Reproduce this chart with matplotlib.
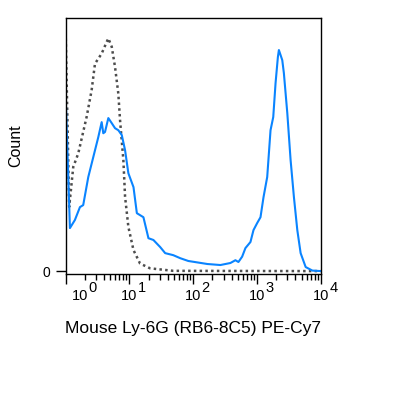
"""Ly-6G PE-Cy7 staining histogram (stained vs isotype control)."""

import matplotlib

matplotlib.use("Agg")
import matplotlib.pyplot as plt  # noqa: E402
import numpy as np  # noqa: E402
from matplotlib.ticker import LogLocator, NullFormatter  # noqa: E402

plt.rcParams["font.family"] = ["Liberation Sans", "DejaVu Sans"]

# stained sample (blue), fluorescence intensity vs % of mode
stained_x = [1.0, 1.0, 1.17, 1.40, 1.68, 1.89, 2.27, 2.72, 3.26, 3.68, 3.90, 4.15, 4.68,
             5.29, 5.96, 6.71, 7.60, 8.56, 9.64, 11.6, 13.1, 16.6, 19.9, 23.8, 30.4,
             36.4, 48.7, 62.7, 83.8, 167, 267, 383, 459, 512, 585, 659, 790, 881,
             1007, 1135, 1265, 1446, 1630, 1798, 1954, 2125, 2204, 2343, 2490, 2638,
             2985, 3363, 3793, 4285, 4831, 5792, 7385, 10000]
stained_y = [0, 70.4, 17.0, 20.2, 25.3, 26.1, 37.2, 45.1, 53.0, 58.9, 54.5, 55.0, 60.5,
             58.5, 56.5, 55.7, 53.8, 47.8, 38.7, 33.2, 22.9, 21.3, 13.0, 12.3, 9.5,
             7.1, 6.3, 5.1, 4.0, 2.8, 2.4, 3.2, 4.3, 3.6, 5.7, 9.1, 11.5, 16.2,
             19.0, 21.3, 29.2, 37.2, 55.7, 60.9, 74.3, 84.6, 87.4, 85.4, 83.4, 78.3,
             62.5, 43.9, 29.2, 16.2, 7.1, 1.6, 0.2, 0.0]

# isotype control (grey dotted)
isotype_x = [1.0, 1.0, 1.14, 1.32, 1.58, 2.14, 2.56, 2.89, 3.68, 4.41, 4.68, 5.29, 5.96,
             6.71, 7.14, 8.05, 8.56, 9.64, 11.6, 14.7, 21.1, 48.7, 10000]
isotype_y = [0, 96.0, 25.4, 41.2, 46.5, 61.0, 71.5, 82.0, 86.0, 90.6, 92.0, 88.7, 80.7,
             70.2, 59.7, 43.9, 29.4, 17.5, 8.3, 3.0, 1.1, 0.1, 0.0]

x_ticks = [1, 10, 100, 1000, 10000]
x_exponents = ["0", "1", "2", "3", "4"]

PX = 0.72  # points per pixel at dpi 100

fig = plt.figure(figsize=(4.15, 3.95), dpi=100)
ax = fig.add_axes([0.158, 0.306, 0.615, 0.648])

ax.plot(isotype_x, isotype_y, color="#4d4d4d", linestyle=(0, (1, 1.3)), linewidth=1.8)
ax.plot(stained_x, stained_y, color="#0a84ff", linewidth=1.5)

ax.set_xscale("log")
ax.set_xlim(1, 10000)
ax.set_ylim(-1.2, 100)

ax.set_xticks(x_ticks)
ax.set_xticklabels([])
ax.xaxis.set_minor_locator(LogLocator(base=10, subs=np.arange(2, 10), numticks=20))
ax.xaxis.set_minor_formatter(NullFormatter())
ax.tick_params(axis="x", which="major", direction="out", length=7, width=1)
ax.tick_params(axis="x", which="minor", direction="out", length=4, width=1)

# FlowJo-style decade labels: "10" with a large raised exponent
for i, (tick, exp) in enumerate(zip(x_ticks, x_exponents)):
    shift = 14 if i == 0 else 0
    ax.annotate("10", xy=(tick, 0), xycoords=("data", "axes fraction"),
                xytext=(shift * PX, -15 * PX), textcoords="offset points",
                ha="center", va="top", fontsize=10.5, annotation_clip=False)
    ax.annotate(exp, xy=(tick, 0), xycoords=("data", "axes fraction"),
                xytext=((shift + 8.5) * PX, -7 * PX), textcoords="offset points",
                ha="left", va="top", fontsize=10.5, annotation_clip=False)

ax.set_yticks([0])
ax.set_yticklabels(["0"], fontsize=10)
ax.tick_params(axis="y", direction="out", length=7, width=1, pad=4)

for side in ("top", "right", "left", "bottom"):
    ax.spines[side].set_linewidth(1)

ax.set_xlabel("Mouse Ly-6G (RB6-8C5) PE-Cy7", fontsize=12.5, labelpad=23)
ax.set_ylabel("Count", fontsize=11.5, labelpad=14)

fig.savefig("out.png", dpi=100, facecolor="white")
